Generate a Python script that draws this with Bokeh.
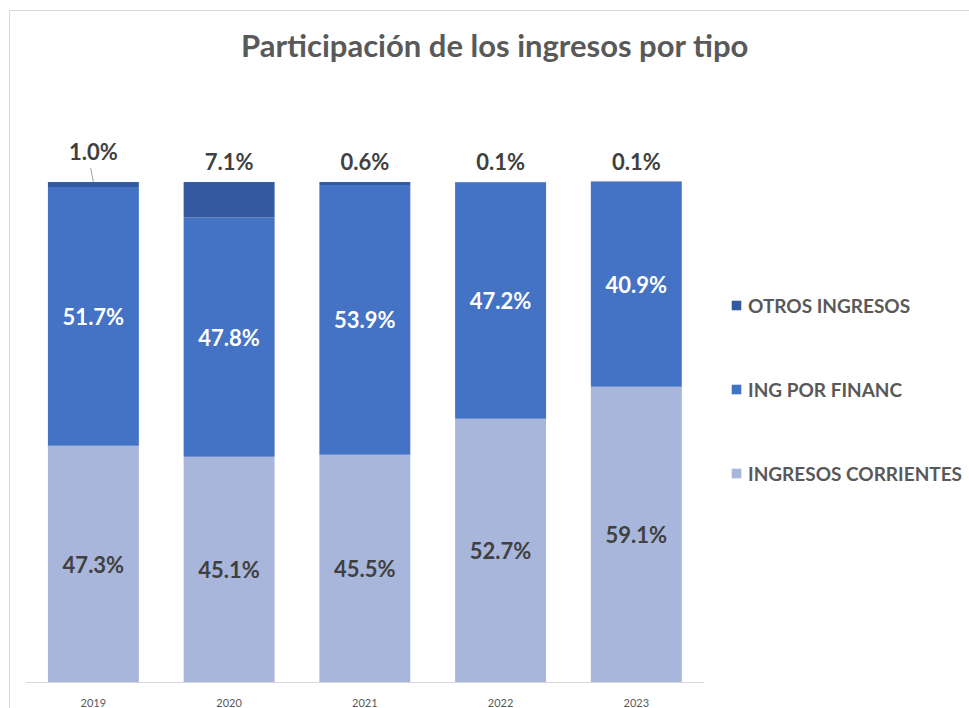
from bokeh.plotting import figure
from bokeh.models import (ColumnDataSource, Legend, LegendItem, FixedTicker, Range1d, Label)
from bokeh.core.properties import value
from bokeh.embed import file_html
from bokeh.resources import INLINE

years = ["2019", "2020", "2021", "2022", "2023"]
ingresos_corrientes = [47.3, 45.1, 45.5, 52.7, 59.1]
ing_por_financ = [51.7, 47.8, 53.9, 47.2, 40.9]
otros_ingresos = [1.0, 7.1, 0.6, 0.1, 0.1]
series_names = ["INGRESOS CORRIENTES", "ING POR FINANC", "OTROS INGRESOS"]
colors = ["#A9B6DB", "#4472C4", "#335AA0"]
title_text = "Participación de los ingresos por tipo"

FONT = "Lato"
xs = [i + 0.5 for i in range(len(years))]
corr_mid = [c / 2 for c in ingresos_corrientes]
fin_mid = [c + f / 2 for c, f in zip(ingresos_corrientes, ing_por_financ)]
tot = [c + f + o for c, f, o in zip(ingresos_corrientes, ing_por_financ, otros_ingresos)]
otros_lab_y = [t + (6.0 if i == 0 else 4.0) for i, t in enumerate(tot)]

src = ColumnDataSource(dict(
    x=xs, corr=ingresos_corrientes, fin=ing_por_financ, otros=otros_ingresos,
    corr_mid=corr_mid, fin_mid=fin_mid, otros_y=otros_lab_y,
    corr_lab=[f"{v:.1f}%" for v in ingresos_corrientes],
    fin_lab=[f"{v:.1f}%" for v in ing_por_financ],
    otros_lab=[f"{v:.1f}%" for v in otros_ingresos],
))

p = figure(width=960, height=698, output_backend="svg", toolbar_location=None,
           x_range=Range1d(-0.1106, 6.962), y_range=Range1d(0, 134.06),
           min_border_left=0, min_border_right=0, min_border_top=0, min_border_bottom=24)
p.styles = {"margin-left": "9px", "margin-top": "10px",
            "border-top": "1px solid #d9d9d9", "border-left": "1px solid #d9d9d9"}
p.outline_line_color = None
p.xgrid.visible = False
p.ygrid.visible = False
p.yaxis.visible = False
p.background_fill_color = "white"
p.border_fill_color = "white"

renderers = p.vbar_stack(["corr", "fin", "otros"], x="x", width=0.67, source=src,
                         color=colors, line_color=None)

p.xaxis.ticker = FixedTicker(ticks=xs)
p.xaxis.bounds = (0, len(years))
p.xaxis.major_label_overrides = {x: y for x, y in zip(xs, years)}
p.xaxis.axis_line_color = "#d9d9d9"
p.xaxis.major_tick_line_color = None
p.xaxis.minor_tick_line_color = None
p.xaxis.major_label_text_font = FONT
p.xaxis.major_label_text_font_size = "11px"
p.xaxis.major_label_text_color = "#595959"
p.xaxis.major_label_standoff = 10

common = dict(text_align="center", text_baseline="middle", text_font=value(FONT),
              text_font_style="bold", text_font_size="22px")
p.text(x="x", y="corr_mid", text="corr_lab", source=src, text_color="#404040", **common)
p.text(x="x", y="fin_mid", text="fin_lab", source=src, text_color="white", **common)
p.text(x="x", y="otros_y", text="otros_lab", source=src, text_color="#404040", **common)

# leader line for 2019
p.segment(x0=[xs[0] - 0.02], y0=[tot[0] + 2.8], x1=[xs[0]], y1=[tot[0]],
          line_color="#a6a6a6", line_width=1)

p.add_layout(Label(x=3.459, y=127.3, text=title_text, text_align="center",
                   text_baseline="middle", text_font=FONT, text_font_style="bold",
                   text_font_size="31px", text_color="#595959"))

items = [LegendItem(label=series_names[2], renderers=[renderers[2]]),
         LegendItem(label=series_names[1], renderers=[renderers[1]]),
         LegendItem(label=series_names[0], renderers=[renderers[0]])]
legend = Legend(items=items, location=(720, 197), orientation="vertical",
                glyph_width=12, glyph_height=12, label_height=24, spacing=60,
                label_text_font=FONT, label_text_font_style="bold",
                label_text_font_size="19px", label_text_color="#595959",
                label_standoff=6, border_line_color=None, background_fill_alpha=0,
                padding=0, margin=0)
p.add_layout(legend, "center")

open("out.html", "w").write(file_html(p, INLINE))
